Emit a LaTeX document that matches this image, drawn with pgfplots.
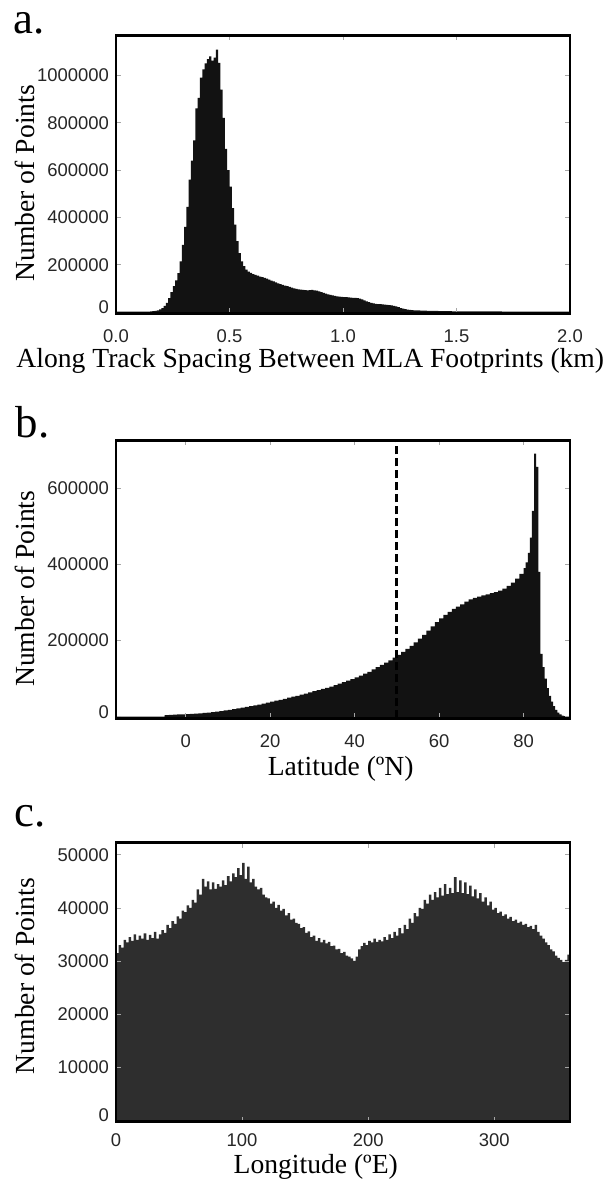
\documentclass[border=0pt]{standalone}
\usepackage{fontspec}
\setmainfont{Liberation Serif}
\newfontfamily\sansfont{Liberation Sans}
\usepackage{pgfplots}
\pgfplotsset{compat=1.18}

\pgfplotstableread{
x y
0.00 2500
0.15 3500
0.16 4500
0.17 6000
0.18 8000
0.19 12000
0.20 18000
0.21 27000
0.22 40000
0.23 60000
0.24 85000
0.25 110000
0.26 135000
0.27 165000
0.28 215000
0.29 285000
0.30 360000
0.31 445000
0.32 560000
0.33 640000
0.34 725000
0.35 860000
0.36 905000
0.37 990000
0.38 1025000
0.39 1050000
0.40 1068000
0.41 1080000
0.42 1062000
0.43 1075000
0.44 1108000
0.45 1052000
0.46 940000
0.47 820000
0.48 690000
0.49 600000
0.50 530000
0.51 440000
0.52 370000
0.53 300000
0.54 250000
0.55 215000
0.56 195000
0.57 180000
0.58 172000
0.59 166000
0.60 161000
0.61 158000
0.62 155000
0.63 151000
0.64 148000
0.65 145000
0.66 142000
0.67 138000
0.68 134000
0.69 130000
0.70 126000
0.71 122000
0.72 119000
0.73 116000
0.74 113000
0.75 110000
0.76 107000
0.77 104000
0.78 101000
0.79 99000
0.80 97000
0.81 96000
0.82 95000
0.83 94000
0.84 93000
0.85 94000
0.86 95000
0.87 93000
0.88 91000
0.89 88000
0.90 85000
0.91 82000
0.92 79000
0.93 76000
0.94 73000
0.95 71000
0.96 69000
0.97 67500
0.98 66500
0.99 65500
1.00 64500
1.01 63500
1.02 62500
1.03 62000
1.04 61000
1.05 60500
1.06 59500
1.07 57500
1.08 54500
1.09 50000
1.10 46000
1.11 43000
1.12 40000
1.13 38000
1.14 36000
1.15 35000
1.16 34000
1.17 33000
1.18 32000
1.19 31000
1.20 30000
1.21 29000
1.22 27500
1.23 25500
1.24 22000
1.25 18000
1.26 15000
1.27 13000
1.28 11000
1.29 10000
1.30 9200
1.31 8600
1.32 8100
1.33 7600
1.34 7200
1.35 6900
1.36 6600
1.37 6300
1.38 6000
1.39 5800
1.40 5600
1.42 5200
1.44 4900
1.46 4600
1.48 4400
1.50 4200
1.55 3900
1.60 3600
1.70 3200
1.80 2900
1.90 2600
2.00 2500
}\spacing

\pgfplotstableread{
x y
-16.5 600
-5 4000
-4 5000
-3 5500
-2 6000
-1 6500
0 7000
1 7500
2 8200
3 9000
4 10000
5 11000
6 12000
7 13500
8 15000
9 16500
10 18000
11 20000
12 22000
13 24000
14 26000
15 28000
16 30000
17 32000
18 34500
19 37000
20 39500
21 42000
22 44500
23 47000
24 50000
25 52500
26 55000
27 58000
28 61000
29 64000
30 67000
31 70000
32 73000
33 76000
34 79000
35 83000
36 87000
37 91000
38 95000
39 99000
40 103000
41 108000
42 113000
43 118000
44 124000
45 130000
46 136000
47 142000
48 148000
49 155000
50 162000
51 170000
52 178000
53 186000
54 195000
55 205000
56 215000
57 226000
58 237000
59 248000
60 258000
61 267000
62 275000
63 283000
64 289000
65 295000
66 302000
67 308000
68 312000
69 315000
70 318000
71 321000
72 324000
73 327000
74 331000
75 336000
76 343000
77 352000
78 362000
79 375000
80 390000
80.5 405000
81 430000
81.5 470000
82 540000
82.5 690000
83 655000
83.5 380000
84 165000
84.5 130000
85 100000
85.5 75000
86 55000
86.5 40000
87 28000
87.5 18000
88 11000
88.5 6000
89 3000
89.5 1500
90 500
90.5 0
}\latitude

\pgfplotstableread{
x y
0 31500
2 33000
4 32500
6 34000
8 33500
10 34500
12 33800
14 35000
16 34000
18 34800
20 34200
22 35200
24 34000
26 34900
28 34300
30 35500
32 34200
34 35000
36 35800
38 35300
40 36800
42 36200
44 37500
46 37000
48 38400
50 38000
52 39500
54 39200
56 40500
58 40000
60 41500
62 41000
64 43500
66 42500
68 45500
70 44000
72 45000
74 43500
76 44800
78 43600
80 44500
82 44000
84 45200
86 44300
88 46000
90 45000
92 46500
94 45800
96 47500
98 46200
100 48500
102 45500
104 47800
106 44800
108 45500
110 44000
112 43500
114 43800
116 42500
118 42000
120 41800
122 40800
124 41200
126 40000
128 40600
130 39500
132 39800
134 38600
136 39000
138 37800
140 38000
142 37200
144 37000
146 36200
148 36400
150 35300
152 35600
154 34500
156 34800
158 33800
160 34300
162 33500
164 34000
166 33300
168 33600
170 32800
172 32900
174 32200
176 32300
178 31500
180 31700
182 31000
184 30800
186 30500
188 30000
190 30800
192 32200
194 32800
196 33400
198 33000
200 33800
202 33500
204 34200
206 33600
208 34000
210 33700
212 34500
214 34000
216 35000
218 34300
220 35500
222 34800
224 36200
226 35200
228 36800
230 36000
232 38000
234 37200
236 39000
238 38400
240 40000
242 39800
244 41500
246 40800
248 42500
250 41500
252 43000
254 42000
256 43800
258 42300
260 44500
262 42600
264 43800
266 42800
268 45800
270 43000
272 45200
274 42800
276 44800
278 42600
280 44200
282 42200
284 43500
286 41800
288 42800
290 41200
292 42000
294 40500
296 41200
298 39700
300 40000
302 39000
304 39300
306 38500
308 38800
310 38000
312 38300
314 37500
316 37800
318 37200
320 37400
322 36800
324 37000
326 36400
328 36600
330 36000
332 36800
334 35500
336 34800
338 34200
340 33500
342 33000
344 32200
346 31800
348 31000
350 30600
352 30200
354 29800
356 30200
358 31200
360 31200
}\longitude

\newcommand{\zlab}{\raisebox{5bp}[\height][\depth]{0}}

\pgfplotsset{
  panel/.style={
    scale only axis, width=454bp, height=278bp, anchor=south west,
    axis line style={line width=2.8bp, black},
    axis on top,
    tick align=inside, xtick pos=both, ytick pos=both,
    major tick length=5bp,
    every tick/.style={black!35, line width=0.8bp},
    scaled ticks=false,
    ticklabel style={font=\sansfont\fontsize{18.5}{20}\selectfont, text=black!85},
    xticklabel style={anchor=base, yshift=-29bp, inner sep=0pt},
    yticklabel style={anchor=east, xshift=-7bp, inner sep=0pt},
    label style={font=\fontsize{27.7}{30}\selectfont, inner sep=0pt},
    ylabel={Number of Points},
    /pgf/number format/assume math mode=true,
    /pgf/number format/fixed,
    /pgf/number format/set thousands separator={},
  }
}

\begin{document}
\begin{tikzpicture}[x=1bp,y=1bp]
\useasboundingbox (0,0) rectangle (609,1182);

% Panel a
\begin{axis}[panel, at={(116bp,868.5bp)},
  xmin=0, xmax=2, ymin=-5000, ymax=1168000,
  xtick={0,0.5,1,1.5,2},
  ytick={0,200000,400000,600000,800000,1000000},
  yticklabels={\zlab,200000,400000,600000,800000,1000000},
  xticklabel style={/pgf/number format/fixed zerofill, /pgf/number format/precision=1},
  xlabel={Along Track Spacing Between MLA Footprints (km)},
  xlabel style={at={(axis description cs:0.428,-0.196)}, anchor=base},
  ylabel style={at={(axis description cs:-0.2229,0.4685)}, anchor=north},
]
\addplot[ybar interval, fill=black!93, draw=none] table[x=x,y=y] {\spacing};
\end{axis}

% Panel b
\begin{axis}[panel, at={(116bp,463.7bp)},
  xmin=-16.5, xmax=91, ymin=-4000, ymax=725000,
  xtick={0,20,40,60,80},
  ytick={0,200000,400000,600000},
  yticklabels={\zlab,200000,400000,600000},
  xlabel={Latitude (ºN)},
  xlabel style={at={(axis description cs:0.495,-0.204)}, anchor=base},
  ylabel style={at={(axis description cs:-0.2229,0.4658)}, anchor=north},
]
\addplot[ybar interval, fill=black!93, draw=none] table[x=x,y=y] {\latitude};
\addplot[black, line width=3bp, dash pattern=on 8bp off 4bp] coordinates {(50,-4000) (50,725000)};
\end{axis}

% Panel c
\begin{axis}[panel, at={(116bp,60.3bp)}, height=279bp,
  xmin=0, xmax=360, ymin=-300, ymax=52300,
  xtick={0,100,200,300},
  ytick={0,10000,20000,30000,40000,50000},
  yticklabels={\zlab,10000,20000,30000,40000,50000},
  xticklabel style={yshift=4bp},
  xlabel={Longitude (ºE)},
  xlabel style={at={(axis description cs:0.44,-0.185)}, anchor=base},
  ylabel style={at={(axis description cs:-0.2229,0.522)}, anchor=north},
]
\addplot[ybar interval, fill=black!82, draw=none] table[x=x,y=y] {\longitude};
\end{axis}

\node[anchor=base west, inner sep=0pt, font=\fontsize{45}{50}\selectfont] at (13.6,1148.7) {a.};
\node[anchor=base west, inner sep=0pt, font=\fontsize{45}{50}\selectfont] at (15.5,744.7) {b.};
\node[anchor=base west, inner sep=0pt, font=\fontsize{45}{50}\selectfont] at (14.8,355.3) {c.};
\end{tikzpicture}
\end{document}
